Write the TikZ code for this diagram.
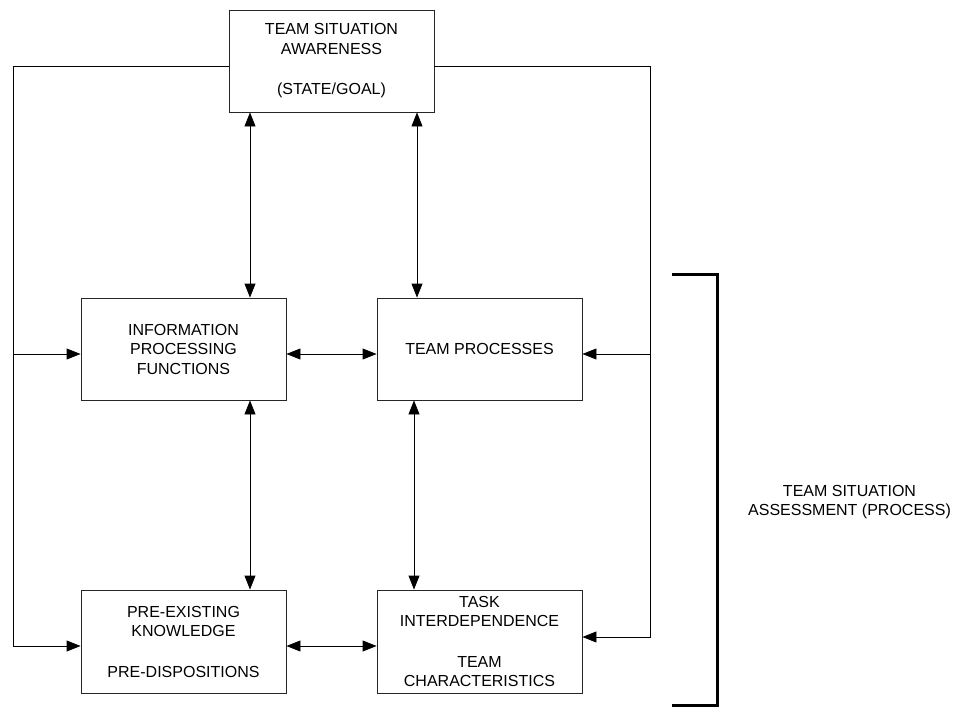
\documentclass[tikz,border=0pt]{standalone}
\usepackage{fontspec}
\setmainfont{Liberation Sans}
\usetikzlibrary{arrows.meta}
\begin{document}
\begin{tikzpicture}[x=1pt,y=-1pt,
  box/.style={draw=black!85,line width=0.9pt,rectangle,minimum width=205pt,minimum height=102pt,inner sep=0pt,align=center,font=\fontsize{16}{19.5}\selectfont},
  conn/.style={draw=black,line width=0.9pt},
  tip/.style={-{Triangle[length=14pt,width=11pt]}},
  dbl/.style={{Triangle[length=14pt,width=11pt]}-{Triangle[length=14pt,width=11pt]}},
  lbl/.style={align=center,font=\fontsize{16}{19.5}\selectfont}]
\useasboundingbox (0,0) rectangle (955,718);
\node[box] (tsa) at (331.5,61) {TEAM SITUATION\\AWARENESS\\[21pt](STATE/GOAL)};
\node[box] (ipf) at (183.5,349) {INFORMATION\\PROCESSING\\FUNCTIONS};
\node[box] (tp) at (479.5,349) {TEAM PROCESSES};
\node[box,minimum height=103pt] (pek) at (183.5,641.5) {PRE-EXISTING\\KNOWLEDGE\\[21pt]PRE-DISPOSITIONS};
\node[box,minimum height=103pt] (ti) at (479.5,641.5) {TASK\\INTERDEPENDENCE\\[21pt]TEAM\\CHARACTERISTICS};
\coordinate (xa) at (250,0);
\coordinate (xb) at (417,0);
\coordinate (xc) at (414,0);
\coordinate (lt) at (13,66);
\coordinate (rt) at (650,66);
\coordinate (lm) at (13,354);
\coordinate (rm) at (650,354);
\coordinate (lb) at (13,646);
\coordinate (rb) at (650,637);
% vertical double arrows
\draw[conn,dbl] (tsa.south -| xa) -- (ipf.north -| xa);
\draw[conn,dbl] (tsa.south -| xb) -- (tp.north -| xb);
\draw[conn,dbl] (ipf.south -| xa) -- (pek.north -| xa);
\draw[conn,dbl] (tp.south -| xc) -- (ti.north -| xc);
% horizontal double arrows
\draw[conn,dbl] (ipf.east |- lm) -- (tp.west |- lm);
\draw[conn,dbl] (pek.east |- lb) -- (ti.west |- lb);
% feedback loops
\draw[conn,tip] (tsa.west |- lt) -- (lt) -- (lb) -- (pek.west |- lb);
\draw[conn,tip] (lm) -- (ipf.west |- lm);
\draw[conn,tip] (tsa.east |- rt) -- (rt) -- (rb) -- (ti.east |- rb);
\draw[conn,tip] (rm) -- (tp.east |- rm);
% bracket
\coordinate (bt) at (672,274);
\coordinate (bb) at (672,705);
\draw[line width=3pt] (bt) -- (717,274) -- (717,705) -- (bb);
\node[lbl] (tsas) at (849.5,502) {TEAM SITUATION\\ASSESSMENT (PROCESS)};
\end{tikzpicture}
\end{document}
